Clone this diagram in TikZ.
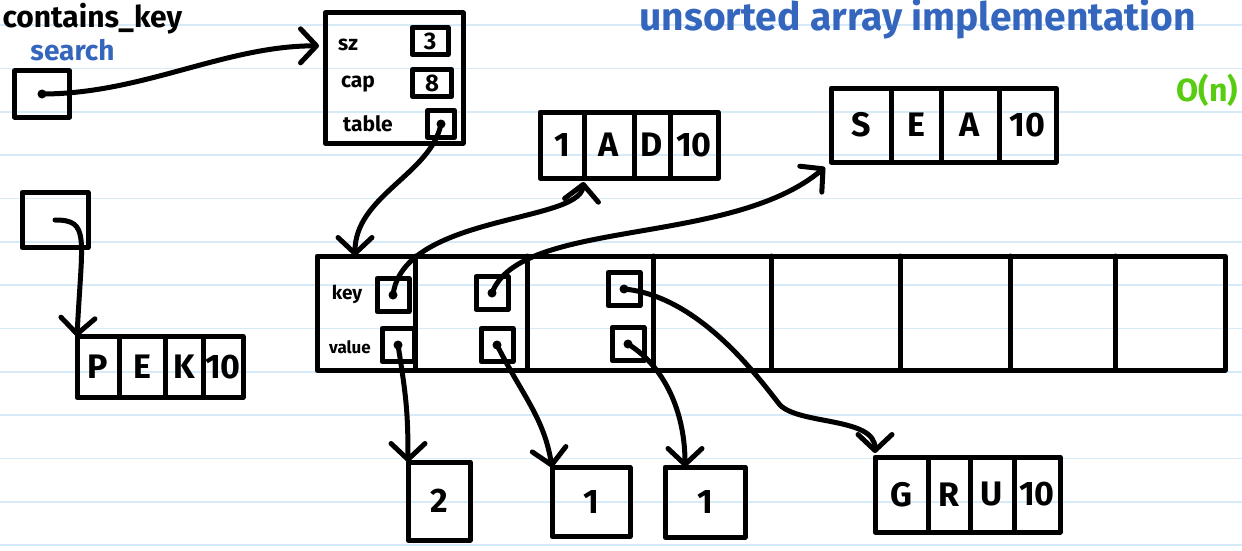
\documentclass[tikz,border=0pt]{standalone}
\usepackage{fontspec}
\setmainfont{Fira Sans}
\usepackage{xcolor}
\usetikzlibrary{positioning, arrows.meta}
\definecolor{inkblue}{RGB}{52,102,190}
\definecolor{inkgreen}{RGB}{88,204,16}
\definecolor{ruleblue}{RGB}{214,234,248}

\begin{document}
\begin{tikzpicture}[->,>={Straight Barb[round,length=16pt,width=34pt]},x=1pt,y=-1pt,line width=5pt,line cap=round,line join=round]
        \tikzstyle{rule}=[-,draw=ruleblue,line width=1.6pt]
        \tikzstyle{cell}=[draw,outer sep=0pt,inner sep=0pt,font=\bfseries\fontsize{34}{34}\selectfont]
        \tikzstyle{slot}=[draw,outer sep=0pt,inner sep=0pt,minimum width=32pt,minimum height=33pt,path picture={\fill (path picture bounding box.center) circle (4.5pt);}]
        \tikzstyle{lbl}=[inner sep=0pt,font=\bfseries\fontsize{21}{21}\selectfont]

        \useasboundingbox[fill=white] (0,0) rectangle (1242,551);
        \foreach \k in {0,...,12}
            \draw[rule] (0,{25+43.35*\k}) -- (1242,{25+43.35*\k});

        % headings
        \node[anchor=base west,inner sep=0pt,font=\bfseries\fontsize{30}{30}\selectfont] (CK) at (0,28) {contains\_key};
        \node[anchor=base west,inner sep=0pt,text=inkblue,font=\bfseries\fontsize{28}{28}\selectfont] (SR) at (28,61) {search};
        \node[anchor=base west,inner sep=0pt,text=inkblue,font=\bfseries\fontsize{39}{39}\selectfont] (TT) at (637,31) {unsorted array implementation};
        \node[anchor=base west,inner sep=0pt,text=inkgreen,font=\bfseries\fontsize{32}{32}\selectfont] (ON) at (1174,101) {O(n)};

        % pointers on the left
        \node[slot,minimum width=55pt,minimum height=46pt] (SP) at (42,94) {};
        \node[draw,minimum width=66pt,minimum height=55pt] (LP) at (55,220) {};

        % map struct
        \node[draw,minimum width=138pt,minimum height=130pt,outer sep=0pt] (ST) at (394,78) {};
        \node[lbl] (LSZ) at (348,45) {sz};
        \node[lbl] (LCAP) at (358,84) {cap};
        \node[lbl] (LTBL) at (368,124) {table};
        \node[cell,minimum width=36pt,minimum height=27pt,font=\bfseries\fontsize{24}{24}\selectfont] (SZ) at (430,41) {3};
        \node[cell,minimum width=39pt,minimum height=27pt,font=\bfseries\fontsize{24}{24}\selectfont] (CAP) at (432,83) {8};
        \node[slot,minimum width=27pt,minimum height=27pt] (TBL) at (441,124) {};

        % table array
        \node[draw,minimum width=908pt,minimum height=114pt,outer sep=0pt] (ARR) at (771,313) {};
        \foreach \x in {415,527,653,771,900,1010,1115}
            \draw[-] (\x,0 |- ARR.north) -- (\x,0 |- ARR.south);
        \node[lbl,font=\bfseries\fontsize{19}{19}\selectfont] (LKEY) at (347,294) {key};
        \node[lbl,font=\bfseries\fontsize{17}{17}\selectfont] (LVAL) at (350,347) {value};
        \node[slot] (K0) at (393,295) {};
        \node[slot] (V0) at (398,345) {};
        \node[slot] (K1) at (492,293) {};
        \node[slot] (V1) at (497,345) {};
        \node[slot] (K2) at (624,289) {};
        \node[slot] (V2) at (628,344) {};

        % strings
        \node[cell,minimum width=42pt,minimum height=61pt] (P1) at (98,367) {P};
        \node[cell,minimum width=46pt,minimum height=61pt,right=0pt of P1] (P2) {E};
        \node[cell,minimum width=38pt,minimum height=61pt,right=0pt of P2] (P3) {K};
        \node[cell,minimum width=40pt,minimum height=61pt,right=0pt of P3] (P4) {10};

        \node[cell,minimum width=44pt,minimum height=66pt] (D1) at (562,145) {1};
        \node[cell,minimum width=50pt,minimum height=66pt,right=0pt of D1] (D2) {A};
        \node[cell,minimum width=36pt,minimum height=66pt,right=0pt of D2] (D3) {D};
        \node[cell,minimum width=48pt,minimum height=66pt,right=0pt of D3] (D4) {10};

        \node[cell,minimum width=60pt,minimum height=74pt] (S1) at (861,125) {S};
        \node[cell,minimum width=50pt,minimum height=74pt,right=0pt of S1] (S2) {E};
        \node[cell,minimum width=58pt,minimum height=74pt,right=0pt of S2] (S3) {A};
        \node[cell,minimum width=57pt,minimum height=74pt,right=0pt of S3] (S4) {10};

        \node[cell,minimum width=53pt,minimum height=75pt] (G1) at (901.5,494.5) {G};
        \node[cell,minimum width=42pt,minimum height=75pt,right=0pt of G1] (G2) {R};
        \node[cell,minimum width=44pt,minimum height=75pt,right=0pt of G2] (G3) {U};
        \node[cell,minimum width=46pt,minimum height=75pt,right=0pt of G3] (G4) {10};

        % values
        \node[cell,minimum width=62pt,minimum height=78pt] (B2) at (439,501) {2};
        \node[cell,minimum width=78pt,minimum height=69pt] (B1) at (591,502) {1};
        \node[cell,minimum width=80pt,minimum height=70pt] (B3) at (705,502) {1};

        \coordinate (BND) at (780,405);

        \draw[shorten >=6pt] (SP.center) .. controls +(100,0) and +(-100,0) .. (ST.155);
        \draw (TBL.center) .. controls +(-10,50) and +(0,-60) .. ([xshift=38pt]ARR.north west);
        \draw (LP.center) .. controls +(35,0) and +(5,-100) .. (P1.north west);
        \draw[shorten >=4pt] (K0.center) .. controls +(10,-80) and +(-5,45) .. (D2.south west);
        \draw[shorten >=8pt] (K1.center) .. controls +(28,-75) and +(-100,85) .. (S1.south west);
        \draw[shorten >=4pt] (K2.center) .. controls +(76,7) and +(-20,-25) .. (BND) .. controls +(20,20) and +(0,-40) .. (G1.north west);
        \draw (V0.center) .. controls +(8,50) and +(0,-50) .. (B2.north west);
        \draw (V1.center) .. controls +(25,50) and +(-8,-50) .. (B1.north west);
        \draw (V2.center) .. controls +(40,25) and +(0,-50) .. ([xshift=20pt]B3.north west);
\end{tikzpicture}
\end{document}
